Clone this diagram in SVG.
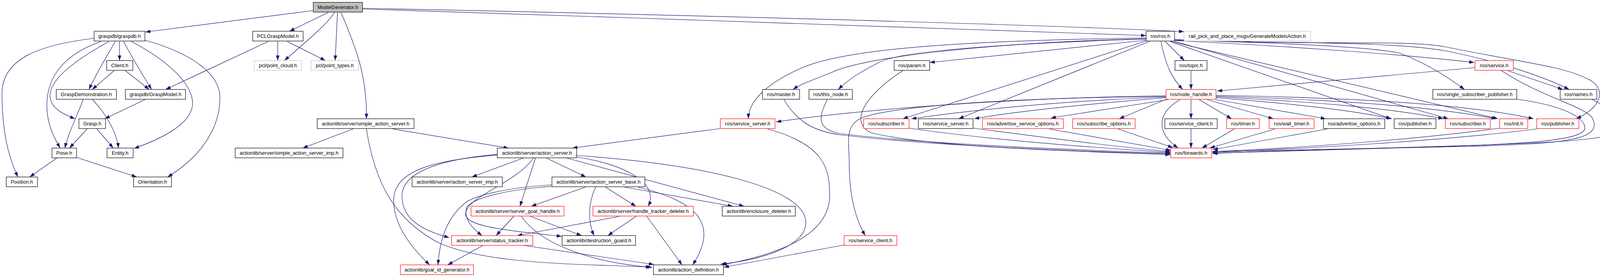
<svg xmlns="http://www.w3.org/2000/svg" width="4161" height="709" viewBox="0 0 4161 709">
<style>
.e{fill:none;stroke:#191970;stroke-width:1.2;marker-end:url(#a)}
.n rect{fill:#ffffff;stroke:#000000;stroke-width:1.2}
.r rect{stroke:#ff0000}
.g rect{stroke:#bfbfbf}
.root rect{fill:#bfbfbf}
text{font-family:"Liberation Sans",Arial,sans-serif;font-size:13px;text-anchor:middle;fill:#000000}
</style>
<defs>
<marker id="a" markerUnits="userSpaceOnUse" viewBox="0 0 10 7" refX="10" refY="3.5" markerWidth="13" markerHeight="9.1" orient="auto">
<path d="M0,0 L10,3.5 L0,7 z" fill="#191970"/>
</marker>
</defs>
<rect width="4161" height="709" fill="#ffffff"/>
<g id="connectors">
<path class="e" d="M802,27 L372,82"/>
<path class="e" d="M840,32 L741,80"/>
<path class="e" d="M856,32 C840,60 780,110 728,155"/>
<path class="e" d="M864,32 L858,155"/>
<path class="e" d="M873,32 C915,130 940,200 938,304"/>
<path class="e" d="M928,21 C1600,35 2600,60 3031,81"/>
<path class="e" d="M928,23 C1600,45 2500,75 2934,91"/>
<path class="e" d="M241,98 C100,115 5,150 5,240 C5,330 20,400 46,453"/>
<path class="e" d="M259,106 C160,140 120,200 120,270 C120,320 140,355 154,379"/>
<path class="e" d="M279,106 C200,150 128,200 128,245 C128,275 160,292 192,304"/>
<path class="e" d="M295,106 C270,150 240,200 228,229"/>
<path class="e" d="M306,106 L306,155"/>
<path class="e" d="M316,106 C340,150 370,200 388,229"/>
<path class="e" d="M336,106 C420,150 493,210 493,265 C493,320 400,360 343,380"/>
<path class="e" d="M371,103 C470,130 563,180 563,250 C563,340 500,410 429,453"/>
<path class="e" d="M292,181 L236,229"/>
<path class="e" d="M321,181 L382,229"/>
<path class="e" d="M687,106 L424,229"/>
<path class="e" d="M711,106 L711,155"/>
<path class="e" d="M735,106 L833,155"/>
<path class="e" d="M213,255 C200,290 175,340 166,379"/>
<path class="e" d="M237,255 C270,290 300,340 303,379"/>
<path class="e" d="M223,330 L178,379"/>
<path class="e" d="M248,330 L290,379"/>
<path class="e" d="M371,255 L268,304"/>
<path class="e" d="M146,404 L76,453"/>
<path class="e" d="M196,403 L350,453"/>
<path class="e" d="M904,330 L775,379"/>
<path class="e" d="M1005,330 L1302,379"/>
<path class="e" d="M938,330 C960,470 1010,560 1120,620 C1250,680 1500,675 1670,684"/>
<path class="e" d="M1341,404 L1208,453"/>
<path class="e" d="M1398,404 L1500,453"/>
<path class="e" d="M1371,404 L1331,528"/>
<path class="e" d="M1476,402 C1600,420 1690,470 1659,528"/>
<path class="e" d="M1449,404 L1905,528"/>
<path class="e" d="M1476,398 C1800,420 2063,480 2063,570 C2063,630 1950,665 1845,676"/>
<path class="e" d="M1273,397 C1100,410 1010,440 1008,510 C1006,580 1060,640 1100,678"/>
<path class="e" d="M1273,395 C1100,410 1030,450 1029,500 C1028,560 1080,590 1150,608"/>
<path class="e" d="M1366,404 C1320,470 1200,500 1192,545 C1185,580 1300,590 1438,605"/>
<path class="e" d="M1413,473 C1300,480 1215,500 1190,520 C1130,570 1125,640 1121,678"/>
<path class="e" d="M1413,477 C1300,485 1215,505 1195,530 C1185,560 1210,585 1234,603"/>
<path class="e" d="M1498,479 L1360,528"/>
<path class="e" d="M1550,479 L1628,528"/>
<path class="e" d="M1525,479 C1505,520 1505,570 1521,603"/>
<path class="e" d="M1599,479 L1876,528"/>
<path class="e" d="M1634,479 C1760,510 1802,550 1802,600 C1802,630 1785,660 1773,678"/>
<path class="e" d="M1315,554 L1270,603"/>
<path class="e" d="M1358,554 L1489,603"/>
<path class="e" d="M1335,554 C1380,620 1500,670 1666,684"/>
<path class="e" d="M1585,554 L1324,603"/>
<path class="e" d="M1628,554 L1556,603"/>
<path class="e" d="M1656,554 L1746,678"/>
<path class="e" d="M1237,628 L1146,678"/>
<path class="e" d="M1340,628 L1674,677"/>
<path class="e" d="M1844,329 L1465,379"/>
<path class="e" d="M1965,330 C2110,370 2124,430 2124,500 C2124,600 2000,650 1848,678"/>
<path class="e" d="M2161,627 L1853,684"/>
<path class="e" d="M2934,97 C2400,105 2150,130 2050,175 C1960,215 1916,260 1916,304"/>
<path class="e" d="M2934,99 C2500,110 2200,150 2130,185 C2080,205 2050,215 2030,229"/>
<path class="e" d="M2934,100 C2600,110 2300,130 2250,160 C2200,185 2170,205 2146,229"/>
<path class="e" d="M2934,103 L2380,160"/>
<path class="e" d="M2934,105 L2311,304"/>
<path class="e" d="M2943,106 L2454,304"/>
<path class="e" d="M2972,106 C2985,170 3000,200 3028,229"/>
<path class="e" d="M2983,106 L3032,155"/>
<path class="e" d="M2997,106 L3835,304"/>
<path class="e" d="M3007,106 L3708,304"/>
<path class="e" d="M2995,106 L3561,304"/>
<path class="e" d="M3007,104 C3300,118 3600,140 3774,160"/>
<path class="e" d="M3007,103 C3300,110 3500,120 3580,135 C3650,160 3710,200 3749,229"/>
<path class="e" d="M3007,102 C3300,112 3550,105 3700,130 C3850,160 3960,200 4017,229"/>
<path class="e" d="M3007,101 C3350,118 3600,100 3700,120 C3900,160 4000,170 4060,200 C4110,220 4110,270 4035,304"/>
<path class="e" d="M3049,181 L3049,229"/>
<path class="e" d="M3776,173 L3116,233"/>
<path class="e" d="M3860,181 L4001,229"/>
<path class="e" d="M3844,181 C3950,250 4050,270 4075,300 C4110,360 4000,368 3750,375 C3500,382 3250,385 3104,388"/>
<path class="e" d="M2985,245 C2600,250 2200,280 1987,312"/>
<path class="e" d="M2985,248 C2700,260 2500,280 2333,304"/>
<path class="e" d="M2985,250 C2800,265 2600,285 2494,304"/>
<path class="e" d="M2990,255 L2690,302"/>
<path class="e" d="M2983,255 L2865,304"/>
<path class="e" d="M3049,255 L3049,304"/>
<path class="e" d="M3070,255 L3153,304"/>
<path class="e" d="M3090,255 L3260,304"/>
<path class="e" d="M3113,255 L3394,304"/>
<path class="e" d="M3113,250 C3300,265 3450,280 3563,304"/>
<path class="e" d="M3113,248 C3350,260 3550,275 3695,304"/>
<path class="e" d="M3113,246 C3400,255 3650,270 3831,304"/>
<path class="e" d="M3113,244 C3450,250 3750,265 3926,304"/>
<path class="e" d="M3021,255 C2960,290 2960,340 3016,379"/>
<path class="e" d="M2985,247 C2600,250 2300,270 2210,300 C2160,320 2174,360 2174,420 C2174,500 2190,560 2215,603"/>
<path class="e" d="M2007,255 C2040,310 2080,335 2150,345 C2400,375 2800,388 2996,394"/>
<path class="e" d="M2118,255 C2095,300 2090,330 2150,342 C2400,372 2800,385 2996,392"/>
<path class="e" d="M2311,181 C2220,240 2170,310 2230,340 C2400,380 2800,388 2996,396"/>
<path class="e" d="M2327,328 C2550,360 2800,378 2996,390"/>
<path class="e" d="M2491,328 C2700,355 2850,375 2996,388"/>
<path class="e" d="M2686,330 L2998,385"/>
<path class="e" d="M2862,330 L3003,378"/>
<path class="e" d="M3049,330 L3049,379"/>
<path class="e" d="M3160,330 L3077,379"/>
<path class="e" d="M3264,330 L3097,379"/>
<path class="e" d="M3398,330 L3105,383"/>
<path class="e" d="M3839,328 C3600,360 3300,380 3104,388"/>
<path class="e" d="M3934,330 C3700,360 3350,380 3104,390"/>
<path class="e" d="M3883,254 C4000,270 4060,300 4057,330 C4050,360 3900,368 3700,375 C3450,384 3250,388 3104,392"/>
<path class="e" d="M4076,255 C4150,290 4160,320 4140,340 C4100,365 3800,372 3500,380 C3300,385 3200,388 3104,393"/>
</g>
<g id="n_modelgenerator" class="n root"><rect x="802" y="6" width="126" height="25"/><text x="865" y="23">ModelGenerator.h</text></g>
<g id="n_graspdb" class="n"><rect x="241" y="80" width="130" height="25"/><text x="306" y="97">graspdb/graspdb.h</text></g>
<g id="n_pclgraspmodel" class="n"><rect x="647" y="80" width="129" height="25"/><text x="711.5" y="97">PCLGraspModel.h</text></g>
<g id="n_ros" class="n"><rect x="2934" y="80" width="73" height="25"/><text x="2970.5" y="97">ros/ros.h</text></g>
<g id="n_generatemodels" class="n g"><rect x="3031" y="80" width="324" height="25"/><text x="3193" y="97">rail_pick_and_place_msgs/GenerateModelsAction.h</text></g>
<g id="n_client" class="n"><rect x="273" y="155" width="67" height="25"/><text x="306.5" y="172">Client.h</text></g>
<g id="n_pointcloud" class="n g"><rect x="651" y="155" width="121" height="25"/><text x="711.5" y="172">pcl/point_cloud.h</text></g>
<g id="n_pointtypes" class="n g"><rect x="796" y="155" width="122" height="25"/><text x="857" y="172">pcl/point_types.h</text></g>
<g id="n_param" class="n"><rect x="2289" y="155" width="91" height="25"/><text x="2334.5" y="172">ros/param.h</text></g>
<g id="n_topic" class="n"><rect x="3008" y="155" width="82" height="25"/><text x="3049" y="172">ros/topic.h</text></g>
<g id="n_service" class="n r"><rect x="3776" y="155" width="98" height="25"/><text x="3825" y="172">ros/service.h</text></g>
<g id="n_graspdemo" class="n"><rect x="144" y="229" width="154" height="25"/><text x="221" y="246">GraspDemonstration.h</text></g>
<g id="n_graspmodel" class="n"><rect x="321" y="229" width="154" height="25"/><text x="398" y="246">graspdb/GraspModel.h</text></g>
<g id="n_master" class="n"><rect x="1952" y="229" width="95" height="25"/><text x="1999.5" y="246">ros/master.h</text></g>
<g id="n_thisnode" class="n"><rect x="2071" y="229" width="111" height="25"/><text x="2126.5" y="246">ros/this_node.h</text></g>
<g id="n_nodehandle" class="n r"><rect x="2985" y="229" width="128" height="25"/><text x="3049" y="246">ros/node_handle.h</text></g>
<g id="n_sspub" class="n"><rect x="3668" y="229" width="215" height="25"/><text x="3775.5" y="246">ros/single_subscriber_publisher.h</text></g>
<g id="n_names" class="n"><rect x="3994" y="229" width="94" height="25"/><text x="4041" y="246">ros/names.h</text></g>
<g id="n_grasp" class="n"><rect x="202" y="304" width="68" height="25"/><text x="236" y="321">Grasp.h</text></g>
<g id="n_simpleas" class="n"><rect x="812" y="304" width="248" height="25"/><text x="936" y="321">actionlib/server/simple_action_server.h</text></g>
<g id="n_serviceserver_r" class="n r"><rect x="1844" y="304" width="140" height="25"/><text x="1914" y="321">ros/service_server.h</text></g>
<g id="n_subscriber_r1" class="n r"><rect x="2211" y="304" width="116" height="25"/><text x="2269" y="321">ros/subscriber.h</text></g>
<g id="n_serviceserver_b" class="n"><rect x="2351" y="304" width="140" height="25"/><text x="2421" y="321">ros/service_server.h</text></g>
<g id="n_advsrvopts" class="n r"><rect x="2515" y="304" width="207" height="25"/><text x="2618.5" y="321">ros/advertise_service_options.h</text></g>
<g id="n_subopts" class="n r"><rect x="2746" y="304" width="160" height="25"/><text x="2826" y="321">ros/subscribe_options.h</text></g>
<g id="n_serviceclient_b" class="n"><rect x="2982" y="304" width="134" height="25"/><text x="3049" y="321">ros/service_client.h</text></g>
<g id="n_timer" class="n r"><rect x="3140" y="304" width="84" height="25"/><text x="3182" y="321">ros/timer.h</text></g>
<g id="n_walltimer" class="n r"><rect x="3249" y="304" width="115" height="25"/><text x="3306.5" y="321">ros/wall_timer.h</text></g>
<g id="n_advopts" class="n"><rect x="3388" y="304" width="157" height="25"/><text x="3466.5" y="321">ros/advertise_options.h</text></g>
<g id="n_publisher_b" class="n"><rect x="3569" y="304" width="107" height="25"/><text x="3622.5" y="321">ros/publisher.h</text></g>
<g id="n_subscriber_r2" class="n r"><rect x="3700" y="304" width="115" height="25"/><text x="3757.5" y="321">ros/subscriber.h</text></g>
<g id="n_init" class="n r"><rect x="3839" y="304" width="72" height="25"/><text x="3875" y="321">ros/init.h</text></g>
<g id="n_publisher_r" class="n r"><rect x="3934" y="304" width="108" height="25"/><text x="3988" y="321">ros/publisher.h</text></g>
<g id="n_pose" class="n"><rect x="133" y="379" width="63" height="25"/><text x="164.5" y="396">Pose.h</text></g>
<g id="n_entity" class="n"><rect x="274" y="379" width="67" height="25"/><text x="307.5" y="396">Entity.h</text></g>
<g id="n_simpleasimp" class="n"><rect x="602" y="379" width="276" height="25"/><text x="740" y="396">actionlib/server/simple_action_server_imp.h</text></g>
<g id="n_actionserver" class="n"><rect x="1273" y="379" width="203" height="25"/><text x="1374.5" y="396">actionlib/server/action_server.h</text></g>
<g id="n_forwards" class="n r"><rect x="2997" y="379" width="105" height="25"/><text x="3049.5" y="396">ros/forwards.h</text></g>
<g id="n_position" class="n"><rect x="16" y="453" width="80" height="25"/><text x="56" y="470">Position.h</text></g>
<g id="n_orientation" class="n"><rect x="342" y="453" width="97" height="25"/><text x="390.5" y="470">Orientation.h</text></g>
<g id="n_asimp" class="n"><rect x="1055" y="453" width="231" height="25"/><text x="1170.5" y="470">actionlib/server/action_server_imp.h</text></g>
<g id="n_asbase" class="n"><rect x="1413" y="453" width="238" height="25"/><text x="1532" y="470">actionlib/server/action_server_base.h</text></g>
<g id="n_sgh" class="n r"><rect x="1206" y="528" width="238" height="25"/><text x="1325" y="545">actionlib/server/server_goal_handle.h</text></g>
<g id="n_htd" class="n r"><rect x="1518" y="528" width="257" height="25"/><text x="1646.5" y="545">actionlib/server/handle_tracker_deleter.h</text></g>
<g id="n_enclosure" class="n"><rect x="1849" y="528" width="187" height="25"/><text x="1942.5" y="545">actionlib/enclosure_deleter.h</text></g>
<g id="n_statustracker" class="n r"><rect x="1156" y="603" width="208" height="25"/><text x="1260" y="620">actionlib/server/status_tracker.h</text></g>
<g id="n_destruction" class="n"><rect x="1439" y="603" width="188" height="25"/><text x="1533" y="620">actionlib/destruction_guard.h</text></g>
<g id="n_serviceclient_r" class="n r"><rect x="2161" y="603" width="135" height="25"/><text x="2228.5" y="620">ros/service_client.h</text></g>
<g id="n_goalid" class="n r"><rect x="1025" y="678" width="187" height="25"/><text x="1118.5" y="695">actionlib/goal_id_generator.h</text></g>
<g id="n_actiondef" class="n"><rect x="1673" y="678" width="179" height="25"/><text x="1762.5" y="695">actionlib/action_definition.h</text></g>
</svg>
